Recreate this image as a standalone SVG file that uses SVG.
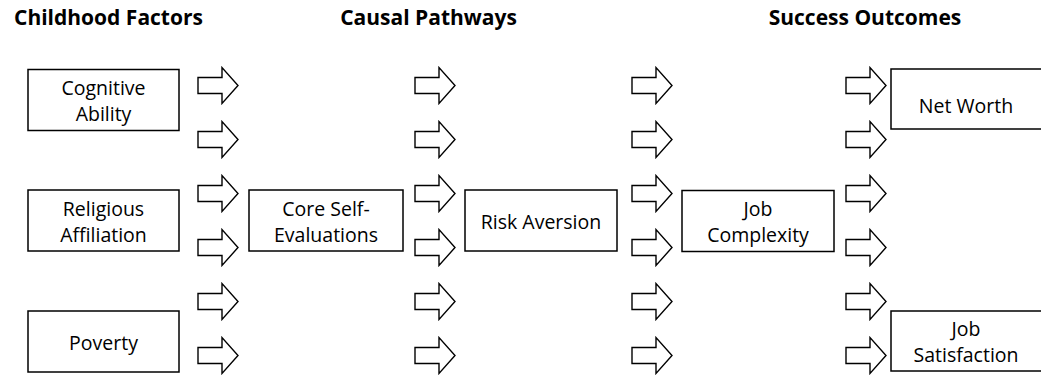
<svg xmlns="http://www.w3.org/2000/svg" xmlns:xlink="http://www.w3.org/1999/xlink" width="1041" height="376" viewBox="0 0 1041 376">
<style>
.box{fill:#fff;stroke:#000;stroke-width:1.5}
.t{font-family:"Open Sans","Noto Sans",sans-serif;font-size:19.5px;fill:#000;text-anchor:middle}
.h{font-family:"Open Sans","Noto Sans",sans-serif;font-size:21px;font-weight:bold;fill:#000;text-anchor:middle}
.arr{fill:#fff;stroke:#000;stroke-width:1.4;stroke-linejoin:miter}
</style>
<defs>
<polygon id="a" class="arr" points="0,-8 24,-8 24,-18 40,0 24,18 24,8 0,8"/>
</defs>
<rect width="1041" height="376" fill="#fff"/>
<g id="headers">
<text class="h" x="108.5" y="25">Childhood Factors</text>
<text class="h" x="428.5" y="25">Causal Pathways</text>
<text class="h" x="865" y="25">Success Outcomes</text>
</g>
<g id="connectors">
<use xlink:href="#a" x="198" y="85.5"/><use xlink:href="#a" x="198" y="139.5"/><use xlink:href="#a" x="198" y="193.5"/><use xlink:href="#a" x="198" y="247.5"/><use xlink:href="#a" x="198" y="301.5"/><use xlink:href="#a" x="198" y="355.5"/>
<use xlink:href="#a" x="415" y="85.5"/><use xlink:href="#a" x="415" y="139.5"/><use xlink:href="#a" x="415" y="193.5"/><use xlink:href="#a" x="415" y="247.5"/><use xlink:href="#a" x="415" y="301.5"/><use xlink:href="#a" x="415" y="355.5"/>
<use xlink:href="#a" x="632" y="85.5"/><use xlink:href="#a" x="632" y="139.5"/><use xlink:href="#a" x="632" y="193.5"/><use xlink:href="#a" x="632" y="247.5"/><use xlink:href="#a" x="632" y="301.5"/><use xlink:href="#a" x="632" y="355.5"/>
<use xlink:href="#a" x="846" y="85.5"/><use xlink:href="#a" x="846" y="139.5"/><use xlink:href="#a" x="846" y="193.5"/><use xlink:href="#a" x="846" y="247.5"/><use xlink:href="#a" x="846" y="301.5"/><use xlink:href="#a" x="846" y="355.5"/>
</g>
<g id="cognitive">
<rect class="box" x="28" y="69.5" width="151" height="61"/>
<text class="t" x="103.5" y="95">Cognitive</text>
<text class="t" x="103.5" y="121">Ability</text>
</g>
<g id="religious">
<rect class="box" x="28" y="190" width="151" height="61"/>
<text class="t" x="103.5" y="215.5">Religious</text>
<text class="t" x="103.5" y="241.5">Affiliation</text>
</g>
<g id="poverty">
<rect class="box" x="28" y="311" width="151" height="61"/>
<text class="t" x="103.5" y="349.5">Poverty</text>
</g>
<g id="cse">
<rect class="box" x="249" y="190" width="154" height="61"/>
<text class="t" x="326" y="215.5">Core Self-</text>
<text class="t" x="326" y="241.5">Evaluations</text>
</g>
<g id="risk">
<rect class="box" x="465" y="190" width="152" height="61"/>
<text class="t" x="541" y="228.5">Risk Aversion</text>
</g>
<g id="jobcomplexity">
<rect class="box" x="682" y="190.5" width="152" height="61"/>
<text class="t" x="758" y="216">Job</text>
<text class="t" x="758" y="242">Complexity</text>
</g>
<g id="networth">
<rect class="box" x="891" y="69" width="152" height="60"/>
<text class="t" x="966" y="113">Net Worth</text>
</g>
<g id="jobsatisfaction">
<rect class="box" x="891" y="311" width="152" height="60"/>
<text class="t" x="966" y="336">Job</text>
<text class="t" x="966" y="362">Satisfaction</text>
</g>
</svg>
